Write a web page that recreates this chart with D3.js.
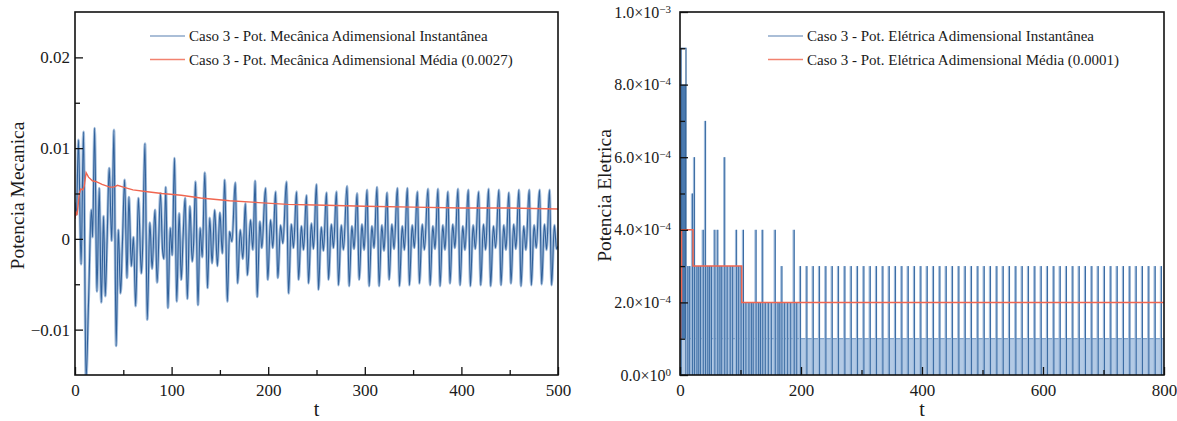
<!DOCTYPE html>
<html>
<head>
<meta charset="utf-8">
<script src="https://cdn.jsdelivr.net/npm/d3@7"></script>
<style>
  body { margin: 0; background: #fff; }
  svg { display: block; }
</style>
</head>
<body>
<svg id="chart" width="1177" height="421"></svg>
<script>
// ---------- Panel 1: mechanical power (dimensionless) ----------
const mechXDomain = [0, 500];
const mechYDomain = [-0.015, 0.025];
const mechXTicks = [0, 100, 200, 300, 400, 500];
const mechXMinor = [50, 150, 250, 350, 450];
const mechYTicks = [-0.01, 0, 0.01, 0.02];
const mechYMinor = [-0.005, 0.005, 0.015];

// instantaneous mechanical power: local extrema [t, value]
const mechInst = [
  [0, 0.0040], [1.4, 0.0027], [3.6, 0.0109], [6.3, -0.0028], [8.8, 0.0118],
  [11.4, -0.0155], [14.0, -0.0070], [16.9, 0.0032], [18.2, 0.0002], [20.3, 0.0122],
  [22.7, -0.0058], [25.1, 0.0056], [27.2, -0.0070], [29.6, 0.0025], [31.3, -0.0063],
  [33.2, -0.0003], [35.4, 0.0078], [38.0, -0.0002], [40.3, 0.0120], [42.6, -0.0118],
  [44.8, 0.0010], [47.2, -0.0060], [49.0, -0.0008], [51.4, 0.0065], [53.8, -0.0043],
  [55.8, 0.0046], [58.3, -0.0030], [60.5, 0.0002], [62.8, -0.0074], [65.6, 0.0045],
  [68.7, -0.0038], [70.0, -0.0010], [72.4, 0.0105], [74.8, -0.0089], [77.5, 0.0018],
  [79.8, -0.0033], [82.8, 0.0032], [85.0, -0.0048], [88.5, 0.0050], [90.6, -0.0012],
  [92.0, -0.0022], [94.0, 0.0057], [96.2, -0.0076], [98.6, 0.0012], [100.6, -0.0018],
  [103.0, 0.0089], [105.3, -0.0069], [107.8, 0.0028], [110.0, -0.0045], [112.0, 0.0005],
  [114.0, 0.0045], [116.3, -0.0066], [119.0, 0.0036], [121.3, -0.0025], [122.8, -0.0005],
  [124.8, 0.0063], [127.3, -0.0073], [129.5, 0.0012], [131.7, -0.0020], [134.4, 0.0073],
  [137.2, -0.0054], [139.5, 0.0023], [141.9, -0.0027], [144.6, 0.0032], [147.4, -0.0030],
  [150.0, 0.0029], [152.5, -0.0016], [155.0, 0.0065], [157.7, -0.0069], [160.0, 0.0008],
  [162.5, -0.0003], [165.9, 0.0062], [168.4, -0.0049], [171.0, 0.0010], [173.8, -0.0022],
  [176.3, 0.0039], [178.5, -0.0040], [181.7, 0.0021], [184.1, -0.0012], [186.5, 0.0064],
  [188.6, -0.0064], [191.4, 0.0019], [193.4, -0.0010], [197.2, 0.0056], [199.6, -0.0045],
  [202.4, 0.0021], [204.8, -0.0010], [207.6, 0.0052], [210.0, -0.0043], [212.8, 0.0015],
  [215.2, -0.0005],
  [218.9, 0.0063], [221.1, -0.0060], [223.9, 0.0016], [226.2, -0.0010],
  [229.3, 0.0052], [231.5, -0.0045], [234.3, 0.0014], [236.6, -0.0012],
  [239.6, 0.0048], [241.8, -0.0049], [244.6, 0.0017], [246.9, -0.0011],
  [249.9, 0.0060], [252.1, -0.0056], [254.9, 0.0013], [257.2, -0.0013],
  [260.3, 0.0051], [262.5, -0.0045], [265.3, 0.0016], [267.6, -0.0010],
  [270.6, 0.0052], [272.8, -0.0051], [275.6, 0.0015], [277.9, -0.0012],
  [281.6, 0.0058], [283.8, -0.0052], [286.6, 0.0014], [288.9, -0.0011],
  [292.0, 0.0050], [294.2, -0.0045], [297.0, 0.0016], [299.3, -0.0012],
  [302.3, 0.0054], [304.5, -0.0052], [307.3, 0.0014], [309.6, -0.0010],
  [312.6, 0.0057], [314.8, -0.0052], [317.6, 0.0015], [319.9, -0.0013],
  [323.0, 0.0051], [325.2, -0.0045], [328.0, 0.0016], [330.3, -0.0011],
  [333.7, 0.0056], [335.9, -0.0052], [338.7, 0.0014], [341.0, -0.0012],
  [344.0, 0.0056], [346.2, -0.0051], [349.0, 0.0015], [351.3, -0.0010],
  [354.4, 0.0052], [356.6, -0.0049], [359.4, 0.0016], [361.7, -0.0012],
  [365.4, 0.0055], [367.6, -0.0051], [370.4, 0.0014], [372.7, -0.0011],
  [375.7, 0.0055], [377.9, -0.0052], [380.7, 0.0015], [383.0, -0.0012],
  [386.0, 0.0052], [388.2, -0.0049], [391.0, 0.0016], [393.3, -0.0010],
  [396.4, 0.0055], [398.6, -0.0051], [401.4, 0.0014], [403.7, -0.0012],
  [407.1, 0.0054], [409.3, -0.0052], [412.1, 0.0015], [414.4, -0.0011],
  [417.8, 0.0052], [420.0, -0.0051], [422.8, 0.0016], [425.1, -0.0012],
  [428.1, 0.0055], [430.3, -0.0052], [433.1, 0.0014], [435.4, -0.0010],
  [438.8, 0.0054], [441.0, -0.0051], [443.8, 0.0015], [446.1, -0.0012],
  [449.1, 0.0051], [451.3, -0.0049], [454.1, 0.0016], [456.4, -0.0011],
  [459.5, 0.0054], [461.7, -0.0052], [464.5, 0.0014], [466.8, -0.0012],
  [470.2, 0.0054], [472.4, -0.0051], [475.2, 0.0015], [477.5, -0.0010],
  [480.9, 0.0054], [483.1, -0.0050], [485.9, 0.0016], [488.2, -0.0012],
  [491.2, 0.0054], [493.4, -0.0051], [496.2, 0.0015], [498.5, -0.0011],
  [500.0, -0.0008]
];

// running mean of the mechanical power [t, value]
const mechMean = [
  [0, 0.0022], [1.0, 0.0030], [2.0, 0.0026], [3.0, 0.0035], [4.5, 0.0050],
  [6.0, 0.0055], [8.0, 0.0054], [9.5, 0.0058], [11.5, 0.0073], [14, 0.0068],
  [18, 0.0064], [22, 0.0063], [28, 0.0060], [36, 0.0057], [40, 0.0057],
  [44, 0.0059], [50, 0.0057], [60, 0.0054], [75, 0.0052], [90, 0.0050],
  [110, 0.0048], [130, 0.0045], [160, 0.0042], [190, 0.0040], [220, 0.0038],
  [260, 0.0037], [300, 0.0036], [350, 0.0035], [400, 0.0034], [450, 0.0034],
  [500, 0.0033]
];

const mechLegend = [
  "Caso 3 - Pot. Mecânica Adimensional Instantânea",
  "Caso 3 - Pot. Mecânica Adimensional Média (0.0027)"
];

// ---------- Panel 2: electric power (dimensionless) ----------
const eletXDomain = [0, 800];
const eletYDomain = [0, 1e-3];
const eletXTicks = [0, 200, 400, 600, 800];
const eletXMinor = [100, 300, 500, 700];
const eletYTicks = [0, 2e-4, 4e-4, 6e-4, 8e-4, 1e-3];
const eletYMinor = [1e-4, 3e-4, 5e-4, 7e-4, 9e-4];

// stretches where the signal flips rapidly between two levels
const eletBandStart = [0, 1.8, 10, 104];
const eletBandEnd = [800, 9.9, 104, 198];
const eletBandLow = [0, 1e-4, 1e-4, 1e-4];
const eletBandHigh = [1e-4, 8e-4, 3e-4, 2e-4];

// initial burst envelope
const eletBurst = [1.8, 9.9, 9e-4];

// isolated pulses [t, value]
const eletPulses = [
  [12, 3e-4], [15, 3e-4], [19.8, 5e-4], [23.1, 6e-4], [27, 3e-4], [30, 3e-4], [33, 3e-4],
  [37.5, 4e-4], [41.3, 7e-4], [45, 3e-4], [48, 3e-4], [51, 3e-4], [56.7, 4e-4], [61.5, 4e-4],
  [65, 3e-4], [68, 3e-4], [73, 6e-4], [77, 3e-4], [82, 3e-4], [86, 3e-4], [92.6, 4e-4],
  [96, 3e-4], [100, 3e-4], [104, 4e-4], [108, 2e-4], [113, 2e-4], [117, 2e-4], [120, 2e-4],
  [124.8, 4e-4], [129, 2e-4], [132, 2e-4], [135.8, 4e-4], [140, 2e-4], [145, 2e-4],
  [150, 2e-4], [156.5, 4e-4], [161, 2e-4], [164, 2e-4], [167.5, 3e-4], [172, 2e-4],
  [177, 2e-4], [182, 2e-4], [187.8, 4e-4], [192, 2e-4],
  [198.3, 3e-4], [208.8, 3e-4], [219.3, 3e-4], [229.7, 3e-4], [240.2, 3e-4], [250.7, 3e-4],
  [261.1, 3e-4], [271.6, 3e-4], [282.1, 3e-4], [292.5, 3e-4], [303.0, 3e-4], [313.5, 3e-4],
  [323.9, 3e-4], [334.4, 3e-4], [344.9, 3e-4], [355.3, 3e-4], [365.8, 3e-4], [376.3, 3e-4],
  [386.7, 3e-4], [397.2, 3e-4], [407.7, 3e-4], [418.1, 3e-4], [428.6, 3e-4], [439.1, 3e-4],
  [449.5, 3e-4], [460.0, 3e-4], [470.5, 3e-4], [480.9, 3e-4], [491.4, 3e-4], [501.9, 3e-4],
  [512.3, 3e-4], [522.8, 3e-4], [533.3, 3e-4], [543.7, 3e-4], [554.2, 3e-4], [564.7, 3e-4],
  [575.1, 3e-4], [585.6, 3e-4], [596.1, 3e-4], [606.5, 3e-4], [617.0, 3e-4], [627.5, 3e-4],
  [637.9, 3e-4], [648.4, 3e-4], [658.9, 3e-4], [669.3, 3e-4], [679.8, 3e-4], [690.3, 3e-4],
  [700.7, 3e-4], [711.2, 3e-4], [721.7, 3e-4], [732.1, 3e-4], [742.6, 3e-4], [753.1, 3e-4],
  [763.5, 3e-4], [774.0, 3e-4], [784.5, 3e-4], [794.9, 3e-4]
];

// running mean of the electric power (stepwise) [t, value]
const eletMean = [
  [0, 1e-4], [1.0, 2e-4], [2.6, 4e-4], [21.5, 3e-4], [102, 2e-4], [800, 2e-4]
];

const eletLegend = [
  "Caso 3 - Pot. Elétrica Adimensional Instantânea",
  "Caso 3 - Pot. Elétrica Adimensional Média (0.0001)"
];

// ---------- drawing ----------
const SERIF = '"Liberation Serif", "Times New Roman", serif';
const svg = d3.select("#chart");
const BLUE_CORE = "#30609a";
const BLUE_HALO = "#a3bddb";
const RED = "#f06650";

function frameAndAxes(g, box, x, y, opt) {
  // minor ticks (inward, no labels)
  g.append("g").attr("transform", `translate(0,${box.y1})`)
    .call(d3.axisBottom(x).tickValues(opt.xMinor).tickSize(-5).tickFormat(""))
    .call(s => s.select(".domain").remove());
  g.append("g").attr("transform", `translate(${box.x0},0)`)
    .call(d3.axisLeft(y).tickValues(opt.yMinor).tickSize(-5).tickFormat(""))
    .call(s => s.select(".domain").remove());
  // major ticks
  const ax = g.append("g").attr("transform", `translate(0,${box.y1})`)
    .call(d3.axisBottom(x).tickValues(opt.xTicks).tickSize(-8).tickPadding(9).tickFormat(d3.format("d")))
    .call(s => s.select(".domain").remove());
  ax.selectAll("text").attr("font-size", 17);
  const ay = g.append("g").attr("transform", `translate(${box.x0},0)`)
    .call(d3.axisLeft(y).tickValues(opt.yTicks).tickSize(-8).tickPadding(opt.yPad).tickFormat(opt.yFormat))
    .call(s => s.select(".domain").remove());
  ay.selectAll("text").attr("font-size", opt.yFont);
  g.selectAll(".tick line").attr("stroke", "#111").attr("stroke-width", 1.3);
  // frame
  g.append("rect").attr("x", box.x0).attr("y", box.y0)
    .attr("width", box.x1 - box.x0).attr("height", box.y1 - box.y0)
    .attr("fill", "none").attr("stroke", "#111").attr("stroke-width", 1.6);
  // titles
  g.append("text").attr("x", (box.x0 + box.x1) / 2).attr("y", 416)
    .attr("text-anchor", "middle").attr("font-size", 20).text("t");
  g.append("text").attr("transform", `translate(${opt.yTitleX},${(box.y0 + box.y1) / 2 + 2}) rotate(-90)`)
    .attr("text-anchor", "middle").attr("font-size", 19.5).text(opt.yTitle);
  return ay;
}

function legend(g, items, x, y) {
  const colors = ["#8ea9ca", "#f2826f"];
  items.forEach((label, i) => {
    const yy = y + i * 23.5;
    g.append("line").attr("x1", x).attr("x2", x + 35).attr("y1", yy).attr("y2", yy)
      .attr("stroke", colors[i]).attr("stroke-width", 1.6);
    g.append("text").attr("x", x + 39).attr("y", yy + 5).attr("font-size", 15).text(label);
  });
}

// ----- left panel -----
const L = { x0: 75, x1: 558, y0: 12, y1: 375 };
const xL = d3.scaleLinear().domain(mechXDomain).range([L.x0, L.x1]);
const yL = d3.scaleLinear().domain(mechYDomain).range([L.y1, L.y0]);
const gL = svg.append("g");
gL.append("clipPath").attr("id", "clipL").append("rect")
  .attr("x", L.x0).attr("y", L.y0).attr("width", L.x1 - L.x0).attr("height", L.y1 - L.y0);

const lineL = d3.line().x(d => xL(d[0])).y(d => yL(d[1])).curve(d3.curveMonotoneX);
const plotL = gL.append("g").attr("clip-path", "url(#clipL)");
plotL.append("path").datum(mechInst).attr("d", lineL)
  .attr("fill", "none").attr("stroke", BLUE_HALO).attr("stroke-width", 2.8).attr("stroke-linejoin", "round");
plotL.append("path").datum(mechInst).attr("d", lineL)
  .attr("fill", "none").attr("stroke", BLUE_CORE).attr("stroke-width", 1.1).attr("stroke-linejoin", "round");
plotL.append("path").datum(mechMean).attr("d", d3.line().x(d => xL(d[0])).y(d => yL(d[1])))
  .attr("fill", "none").attr("stroke", RED).attr("stroke-width", 1.4);

frameAndAxes(gL, L, xL, yL, {
  xTicks: mechXTicks, xMinor: mechXMinor, yTicks: mechYTicks, yMinor: mechYMinor,
  yPad: 5, yFont: 17,
  yFormat: d => d === 0 ? "0" : d3.format(".2f")(d),
  yTitle: "Potencia Mecanica", yTitleX: 24
});
legend(gL, mechLegend, 150, 36);

// ----- right panel -----
const R = { x0: 680, x1: 1164, y0: 12, y1: 375 };
const xR = d3.scaleLinear().domain(eletXDomain).range([R.x0, R.x1]);
const yR = d3.scaleLinear().domain(eletYDomain).range([R.y1, R.y0]);
const gR = svg.append("g");
gR.append("clipPath").attr("id", "clipR").append("rect")
  .attr("x", R.x0).attr("y", R.y0).attr("width", R.x1 - R.x0).attr("height", R.y1 - R.y0);
const plotR = gR.append("g").attr("clip-path", "url(#clipR)");

const bandFill = ["#b3cae5", "#4a79ae", "#a9c3e2", "#b3cae5"];
eletBandStart.forEach((t0, i) => {
  plotR.append("rect")
    .attr("x", xR(t0)).attr("width", xR(eletBandEnd[i]) - xR(t0))
    .attr("y", yR(eletBandHigh[i])).attr("height", yR(eletBandLow[i]) - yR(eletBandHigh[i]))
    .attr("fill", bandFill[i]);
});
// band top edge
plotR.append("line").attr("x1", xR(0)).attr("x2", xR(800))
  .attr("y1", yR(eletBandHigh[0])).attr("y2", yR(eletBandHigh[0]))
  .attr("stroke", "#6a93c2").attr("stroke-width", 1);
// initial burst outline
plotR.append("rect")
  .attr("x", xR(eletBurst[0])).attr("width", xR(eletBurst[1]) - xR(eletBurst[0]))
  .attr("y", yR(eletBurst[2])).attr("height", yR(0) - yR(eletBurst[2]))
  .attr("fill", "none").attr("stroke", "#2f5f95").attr("stroke-width", 1.2);
// pulses
plotR.selectAll("line.pulse").data(eletPulses).join("line").attr("class", "pulse")
  .attr("x1", d => xR(d[0])).attr("x2", d => xR(d[0]))
  .attr("y1", yR(0)).attr("y2", d => yR(d[1]))
  .attr("stroke", "#9bb8da").attr("stroke-width", 2.2);
plotR.selectAll("line.pulsecore").data(eletPulses).join("line").attr("class", "pulsecore")
  .attr("x1", d => xR(d[0]) + 0.6).attr("x2", d => xR(d[0]) + 0.6)
  .attr("y1", yR(0)).attr("y2", d => yR(d[1]))
  .attr("stroke", "#3a6ba2").attr("stroke-width", 1);
// mean (step)
plotR.append("path").datum(eletMean)
  .attr("d", d3.line().x(d => xR(d[0])).y(d => yR(d[1])).curve(d3.curveStepAfter))
  .attr("fill", "none").attr("stroke", RED).attr("stroke-width", 1.5);

const ayR = frameAndAxes(gR, R, xR, yR, {
  xTicks: eletXTicks, xMinor: eletXMinor, yTicks: eletYTicks, yMinor: eletYMinor,
  yPad: 9, yFont: 16,
  yFormat: d => d,
  yTitle: "Potencia Eletrica", yTitleX: 611
});
// scientific labels with superscript exponents
ayR.selectAll("g.tick text").each(function (d) {
  const el = d3.select(this);
  const exp = d === 0 ? 0 : Math.floor(Math.log10(d) + 1e-9);
  const mant = d === 0 ? 0 : d / Math.pow(10, exp);
  el.text(null);
  el.append("tspan").text(d3.format(".1f")(mant) + "×10");
  el.append("tspan").attr("dy", "-0.45em").attr("font-size", 11)
    .text(exp < 0 ? "−" + (-exp) : String(exp));
});
legend(gR, eletLegend, 768, 36);

// serif typography everywhere
svg.selectAll("g").filter(function () { return this.hasAttribute("font-family"); })
  .attr("font-family", SERIF);
svg.selectAll("text").attr("font-family", SERIF).attr("fill", "#1a1a1a");
</script>
</body>
</html>
